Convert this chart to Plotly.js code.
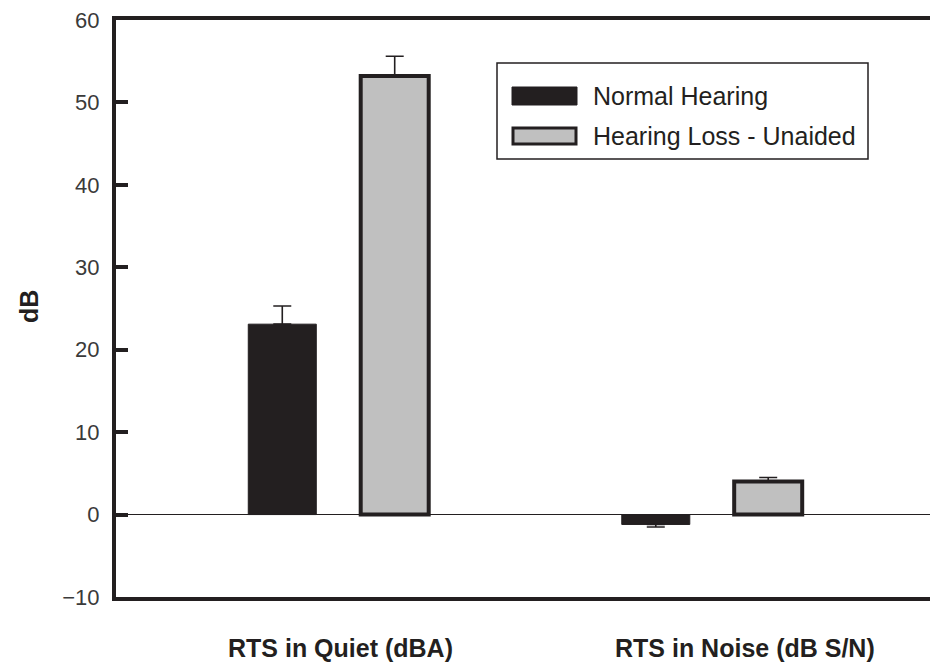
<!DOCTYPE html>
<html>
<head>
<meta charset="utf-8">
<script src="https://cdn.plot.ly/plotly-3.0.1.min.js"></script>
<style>html,body{margin:0;padding:0;background:#fff;}#chart{width:930px;height:664px;}</style>
</head>
<body>
<div id="chart"></div>
<script>
// ---- data ----
var categories = ["RTS in Quiet (dBA)", "RTS in Noise (dB S/N)"];
var seriesNames = ["Normal Hearing", "Hearing Loss - Unaided"];
var normalHearing = [23.1, -1.2];
var normalHearingErrPlus = [2.2, 0];
var normalHearingErrMinus = [0, 0.3];
var hearingLoss = [53.2, 4.0];
var hearingLossErrPlus = [2.4, 0.5];
var hearingLossErrMinus = [0, 0];
var yTickValues = [-10, 0, 10, 20, 30, 40, 50, 60];
var yAxisTitle = "dB";

// ---- layout geometry ----
var W = 930, H = 664;
var M = {l: 116, r: 0, t: 20, b: 67};
var pw = W - M.l - M.r, ph = H - M.t - M.b;
function px(x) { return (x - M.l) / pw; }
function py(y) { return (H - M.b - y) / ph; }
var dark = "#231f20";
var xIdx = categories.map(function (c, i) { return i; });

var traces = [
  {
    type: "bar", name: seriesNames[0], x: xIdx, y: normalHearing,
    marker: {color: dark, line: {color: dark, width: 1}},
    error_y: {type: "data", symmetric: false, array: normalHearingErrPlus, arrayminus: normalHearingErrMinus,
              color: dark, thickness: 1.6, width: 9},
    hoverinfo: "y"
  },
  {
    type: "bar", name: seriesNames[1], x: xIdx, y: hearingLoss,
    marker: {color: "#c0c0c0", line: {color: dark, width: 4}},
    error_y: {type: "data", symmetric: false, array: hearingLossErrPlus, arrayminus: hearingLossErrMinus,
              color: dark, thickness: 1.6, width: 9},
    hoverinfo: "y"
  }
];

var annotations = [];
// category labels
var labelOffsets = [0.005, 0.088];
categories.forEach(function (c, i) {
  annotations.push({
    xref: "x", yref: "paper", x: xIdx[i] + labelOffsets[i], y: py(648),
    text: "<b>" + c + "</b>", showarrow: false, xanchor: "center", yanchor: "middle",
    font: {family: "Liberation Sans, Arial, sans-serif", size: 25, color: dark}
  });
});
// y title
annotations.push({
  xref: "paper", yref: "paper", x: px(29), y: py(307), text: "<b>" + yAxisTitle + "</b>",
  textangle: -90, showarrow: false, xanchor: "center", yanchor: "middle",
  font: {family: "Liberation Sans, Arial, sans-serif", size: 25, color: dark}
});
// legend texts
var legendTextY = [96, 136];
seriesNames.forEach(function (n, i) {
  annotations.push({
    xref: "paper", yref: "paper", x: px(591), y: py(legendTextY[i]), text: n,
    showarrow: false, xanchor: "left", yanchor: "middle",
    font: {family: "Liberation Sans, Arial, sans-serif", size: 25, color: dark}
  });
});

var shapes = [
  {type: "rect", xref: "paper", yref: "paper", x0: px(497), x1: px(868), y0: py(159), y1: py(63),
   line: {color: dark, width: 1.5}, fillcolor: "rgba(255,255,255,0)"},
  {type: "rect", xref: "paper", yref: "paper", x0: px(512), x1: px(577), y0: py(105), y1: py(87),
   line: {color: dark, width: 1}, fillcolor: dark},
  {type: "rect", xref: "paper", yref: "paper", x0: px(513), x1: px(576), y0: py(144), y1: py(128),
   line: {color: dark, width: 3}, fillcolor: "#c0c0c0"}
];

var layout = {
  width: W, height: H,
  margin: M,
  paper_bgcolor: "#fff", plot_bgcolor: "#fff",
  showlegend: false,
  barmode: "group", bargap: 0.398, bargroupgap: 0.395,
  xaxis: {
    range: [-0.5957, 1.5837], showgrid: false, zeroline: false,
    showticklabels: false, ticks: "",
    showline: true, mirror: true, linecolor: dark, linewidth: 4
  },
  yaxis: {
    range: [-10, 60], tickvals: yTickValues, showgrid: false,
    zeroline: true, zerolinecolor: dark, zerolinewidth: 1.5,
    showline: true, linecolor: dark, linewidth: 4,
    ticks: "inside", ticklen: 12, tickwidth: 4, tickcolor: dark,
    ticklabelstandoff: 8,
    tickfont: {family: "Liberation Sans, Arial, sans-serif", size: 22, color: "#3a3a3a"}
  },
  annotations: annotations,
  shapes: shapes
};

Plotly.newPlot("chart", traces, layout, {displayModeBar: false, staticPlot: true});
</script>
</body>
</html>
